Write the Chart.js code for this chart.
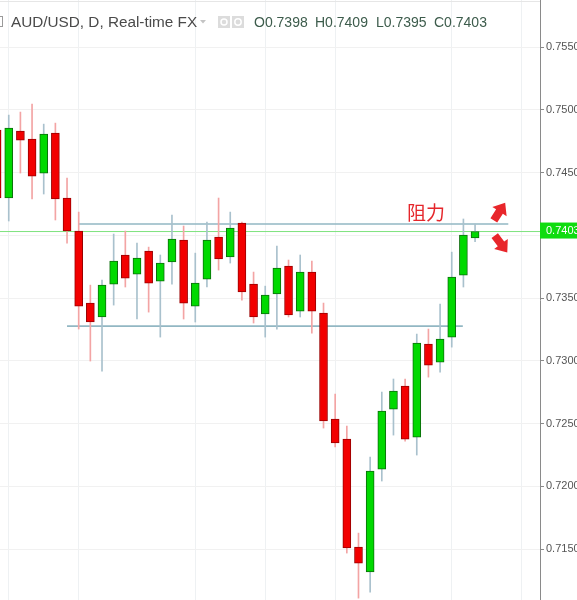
<!DOCTYPE html>
<html><head><meta charset="utf-8">
<script src="https://cdn.jsdelivr.net/npm/chart.js@4.4.1/dist/chart.umd.min.js"></script>
<style>html,body{margin:0;padding:0;background:#fff;overflow:hidden}#wrap{position:relative;width:577px;height:600px}</style>
</head><body><div id="wrap"><canvas id="c" width="577" height="600"></canvas></div>
<script>
// daily candles, index -1 is partially cut at the left edge
const candleIndex = [-1,0,1,2,3,4,5,6,7,8,9,10,11,12,13,14,15,16,17,18,19,20,21,22,23,24,25,26,27,28,29,30,31,32,33,34,35,36,37,38,39,40];
const open  = [0.74839,0.74297,0.74831,0.74767,0.74496,0.74815,0.74297,0.74034,0.7346,0.73349,0.73611,0.73843,0.73691,0.73875,0.73635,0.73787,0.73962,0.73436,0.73651,0.73986,0.73827,0.74098,0.73611,0.73373,0.73532,0.73755,0.73396,0.73707,0.7338,0.72536,0.72376,0.71516,0.71317,0.72137,0.72615,0.72799,0.72392,0.73133,0.7299,0.73189,0.73683,0.7398];
const high  = [0.7488,0.74958,0.74982,0.75046,0.74886,0.74894,0.74456,0.74185,0.73603,0.73643,0.7401,0.74034,0.73938,0.73906,0.73843,0.74161,0.74074,0.73858,0.74106,0.74297,0.74185,0.74106,0.73707,0.73595,0.73914,0.73803,0.73843,0.73795,0.7346,0.72735,0.7248,0.71627,0.72233,0.72751,0.72855,0.72855,0.73213,0.73253,0.73452,0.73866,0.7413,0.7409];
const low   = [0.7425,0.74114,0.74496,0.74289,0.74329,0.74122,0.73938,0.73253,0.72998,0.72918,0.73444,0.73588,0.73333,0.73388,0.73189,0.73611,0.73333,0.73309,0.73588,0.73723,0.73779,0.73484,0.73301,0.73189,0.73253,0.73349,0.73349,0.73221,0.72464,0.72313,0.71468,0.71109,0.71157,0.72042,0.72408,0.7236,0.72249,0.7287,0.7291,0.73109,0.73588,0.7395];
const close = [0.74297,0.74855,0.74759,0.74472,0.74807,0.74289,0.74034,0.73436,0.73309,0.73603,0.73795,0.73659,0.73819,0.73619,0.73779,0.7397,0.7346,0.73619,0.73962,0.73811,0.74058,0.73548,0.73349,0.73524,0.73739,0.73365,0.73707,0.73396,0.7252,0.72345,0.71508,0.71388,0.72122,0.726,0.72759,0.72376,0.73141,0.72966,0.73173,0.73667,0.74002,0.7403];
const yTicks = [0.7550,0.7500,0.7450,0.7400,0.7350,0.7300,0.7250,0.7200,0.7150];
const xGridAt = [0,6,16,22,28,38,44];
const resistanceLevel = 0.7409;
const resistanceRange = [6,42.85];
const supportLevel = 0.73276;
const supportRange = [5,38.95];
const lastPrice = 0.7403;
const header = {symbol:'AUD/USD, D, Real-time FX', O:'0.7398', H:'0.7409', L:'0.7395', C:'0.7403'};
const noteText = '阻力';

const up = candleIndex.map((_,i)=>close[i]>=open[i]);
const bodyFill = up.map(u=>u?'#00d900':'#f20000');
const bodyEdge = up.map(u=>u?'#0b6e0b':'#9a0000');
const wickCol = up.map(u=>u?'#a9c1cd':'#f3a4a4');

const xMin=-0.75, xMax=45.57;

function arrow(ctx,cx,cy,ang,len,shaft,head){
  ctx.save();ctx.translate(cx,cy);ctx.rotate(ang);
  const h=len/2, hb=h-head*0.62;
  ctx.beginPath();
  ctx.moveTo(-h,-shaft/2);ctx.lineTo(hb,-shaft/2);ctx.lineTo(hb,-head/2);ctx.lineTo(h,0);
  ctx.lineTo(hb,head/2);ctx.lineTo(hb,shaft/2);ctx.lineTo(-h,shaft/2);ctx.closePath();
  ctx.fillStyle='#e8262b';ctx.fill();ctx.restore();
}

const overlay = {
  id:'overlay',
  afterDatasetsDraw(chart){
    const ctx=chart.ctx;
    ctx.save();
    ctx.fillStyle='#e5262b';
    ctx.font='19px "Noto Sans CJK SC"';
    ctx.textBaseline='alphabetic';ctx.textAlign='left';
    ctx.fillText(noteText,407,220);
    arrow(ctx,499.5,211.5,-1.0,21,8,17);
    arrow(ctx,501,244,0.93,21,8,17);
    ctx.restore();
  },
  afterDraw(chart){
    const ctx=chart.ctx, ys=chart.scales.y;
    ctx.save();
    ctx.strokeStyle='#e6e6e6';ctx.lineWidth=1;
    ctx.beginPath();ctx.moveTo(0,1.5);ctx.lineTo(540,1.5);ctx.stroke();
    ctx.strokeStyle='#9a9a9a';ctx.strokeRect(-5.5,16.5,8,10);
    ctx.fillStyle='#4a4a4a';ctx.font='15.3px "Liberation Sans"';ctx.textAlign='left';ctx.textBaseline='alphabetic';
    ctx.fillText(header.symbol,11,27);
    ctx.fillStyle='#c4c4c4';
    ctx.beginPath();ctx.moveTo(200,20);ctx.lineTo(206,20);ctx.lineTo(203,23.5);ctx.closePath();ctx.fill();
    ctx.fillStyle='#dcdcdc';ctx.fillRect(218,16,12,12);ctx.fillRect(232,16,12,12);
    ctx.strokeStyle='#fff';ctx.lineWidth=1.5;
    ctx.beginPath();ctx.arc(224,22,3,0,Math.PI*2);ctx.stroke();
    ctx.beginPath();ctx.arc(238,22,3.2,0,Math.PI*2);ctx.stroke();
    ctx.fillStyle='#3d5c4c';ctx.font='14px "Liberation Sans"';
    ctx.fillText('O'+header.O,254,27);
    ctx.fillText('H'+header.H,315,27);
    ctx.fillText('L'+header.L,376,27);
    ctx.fillText('C'+header.C,434,27);
    const py=ys.getPixelForValue(lastPrice);
    ctx.fillStyle='#0fdc0f';ctx.fillRect(540,py-9,37,16);
    ctx.fillStyle='#ffffff';ctx.font='11px "Liberation Sans"';ctx.textBaseline='middle';
    ctx.fillText(lastPrice.toFixed(4),546,py-1);
    ctx.restore();
  }
};

new Chart(document.getElementById('c'),{
  type:'bar',
  data:{datasets:[
    {label:'body',order:0,grouped:false,barThickness:8,borderWidth:1,borderSkipped:false,
     backgroundColor:bodyFill,borderColor:bodyEdge,
     data:candleIndex.map((x,i)=>({x:x,y:[open[i],close[i]]}))},
    {label:'wick',order:1,grouped:false,barThickness:1,borderWidth:0,
     backgroundColor:wickCol,
     data:candleIndex.map((x,i)=>({x:x,y:[low[i],high[i]]}))},
    {type:'line',label:'resistance',order:2,borderColor:'#92b7c3',borderWidth:1.6,pointRadius:0,
     data:[{x:resistanceRange[0],y:resistanceLevel},{x:resistanceRange[1],y:resistanceLevel}]},
    {type:'line',label:'support',order:2,borderColor:'#92b7c3',borderWidth:1.6,pointRadius:0,
     data:[{x:supportRange[0],y:supportLevel},{x:supportRange[1],y:supportLevel}]},
    {type:'line',label:'last',order:3,borderColor:'#7ee37e',borderWidth:1,pointRadius:0,
     data:[{x:xMin,y:lastPrice},{x:xMax,y:lastPrice}]}
  ]},
  options:{
    responsive:false,animation:false,maintainAspectRatio:false,
    layout:{padding:0},
    plugins:{legend:{display:false},tooltip:{enabled:false}},
    scales:{
      x:{type:'linear',min:xMin,max:xMax,offset:false,
         grid:{offset:false,color:'#eef1f3',drawTicks:false},border:{display:false},
         ticks:{display:false},
         afterBuildTicks:s=>{s.ticks=xGridAt.map(v=>({value:v}));},
         afterFit:s=>{s.height=0;s.paddingLeft=0;s.paddingRight=0;}},
      y:{type:'linear',position:'right',min:0.71094,max:0.75875,beginAtZero:false,
         grid:{color:'#f1f1f1',tickLength:4,tickColor:'#8a8a8a'},
         border:{color:'#8a8a8a'},
         ticks:{font:{family:'Liberation Sans',size:11},color:'#555',padding:2,
                callback:v=>v===0.74?'':v.toFixed(4)},
         afterBuildTicks:s=>{s.ticks=yTicks.map(v=>({value:v}));},
         afterFit:s=>{s.width=37;s.paddingTop=0;s.paddingBottom=0;}}
    }
  },
  plugins:[overlay]
});
</script></body></html>
